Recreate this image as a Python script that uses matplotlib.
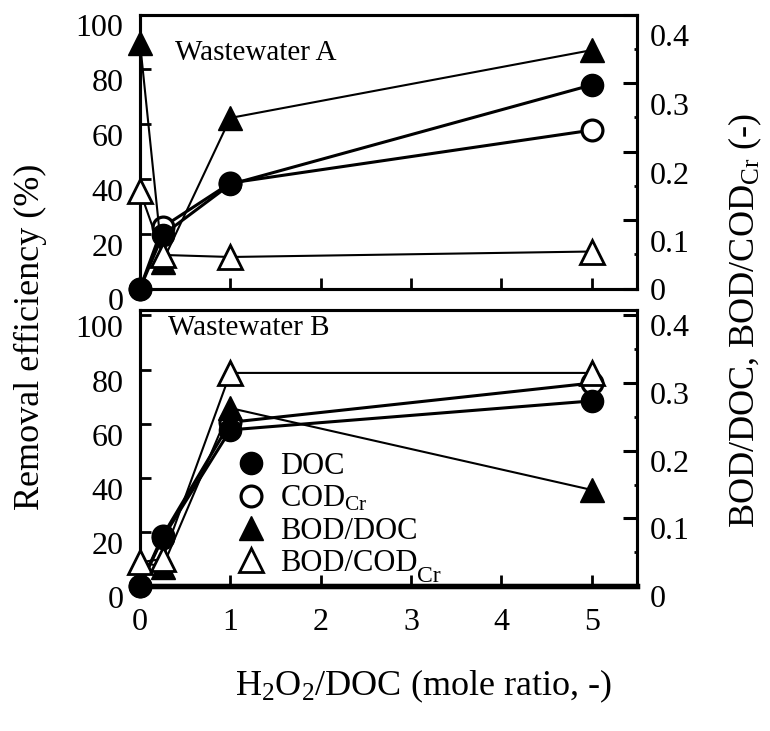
import matplotlib
matplotlib.use('Agg')
import matplotlib.pyplot as plt
from matplotlib.lines import Line2D
from matplotlib.transforms import ScaledTranslation

plt.rcParams['font.family'] = ['Liberation Serif', 'DejaVu Serif']
plt.rcParams['mathtext.fontset'] = 'custom'
plt.rcParams['mathtext.rm'] = 'Liberation Serif'
plt.rcParams['mathtext.it'] = 'Liberation Serif:italic'

# H2O2/DOC mole ratio
x = [0, 0.25, 1, 5]

# Wastewater A
a_doc = [0, 19.5, 38.0, 74.3]
a_cod = [0, 22.4, 38.5, 57.8]
a_bod_doc = [0.359, 0.039, 0.249, 0.348]
a_bod_cod = [0.142, 0.049, 0.046, 0.054]

# Wastewater B
b_doc = [0, 17.7, 57.7, 68.4]
b_cod = [0, 18.5, 60.5, 75.0]
b_bod_doc = [0.036, 0.028, 0.263, 0.142]
b_bod_cod = [0.035, 0.040, 0.315, 0.315]

xticks = [0, 1, 2, 3, 4, 5]
left_ticks = [0, 20, 40, 60, 80, 100]
right_ticks = [0, 0.1, 0.2, 0.3, 0.4]
right_minor = [0.05, 0.15, 0.25, 0.35]
right_labels = ['0', '0.1', '0.2', '0.3', '0.4']

W, H = 770, 731
fig = plt.figure(figsize=(W / 100, H / 100), dpi=100)

def px_axes(left, right, top, bottom):
    return fig.add_axes([left / W, 1 - bottom / H, (right - left) / W, (bottom - top) / H])

axA = px_axes(140, 637, 14.5, 288.5)
axB = px_axes(140, 637, 310, 586)
axA2 = axA.twinx()
axB2 = axB.twinx()

styles = {
    'doc': dict(marker='o', ms=16, mfc='black', mec='black', mew=1, color='black', lw=2.2),
    'cod': dict(marker='o', ms=15, mfc='white', mec='black', mew=2.3, color='black', lw=2.2),
    'bdoc': dict(marker='^', ms=17, mfc='black', mec='black', mew=1, color='black', lw=1.5),
    'bcod': dict(marker='^', ms=17, mfc='white', mec='black', mew=2.0, color='black', lw=1.5),
}

def draw(ax, ax2, doc, cod, bdoc, bcod):
    ax.plot(x, cod, clip_on=False, zorder=3, **styles['cod'])
    ax.plot(x, doc, clip_on=False, zorder=4, **styles['doc'])
    ax2.plot(x, bdoc, clip_on=False, zorder=3, **styles['bdoc'])
    ax2.plot(x, bcod, clip_on=False, zorder=4, **styles['bcod'])

draw(axA, axA2, a_doc, a_cod, a_bod_doc, a_bod_cod)
draw(axB, axB2, b_doc, b_cod, b_bod_doc, b_bod_cod)

def offset(dy):
    return ScaledTranslation(0, -dy / 100, fig.dpi_scale_trans)

for ax, ax2, ytop, show_x in [(axA, axA2, 100, False), (axB, axB2, 102, True)]:
    ax.set_xlim(0, 5.5)
    ax.set_ylim(0, ytop)
    ax2.set_ylim(0, ytop / 250)
    ax.set_xticks(xticks)
    ax.set_yticks(left_ticks)
    ax2.set_yticks(right_ticks)
    ax2.set_yticklabels(right_labels)
    ax2.set_yticks(right_minor, minor=True)
    ax.tick_params(axis='y', direction='in', length=8, width=2, labelsize=23, pad=12)
    ax.tick_params(axis='x', direction='in', length=8, width=2, labelsize=23, pad=16,
                   labelbottom=show_x)
    ax2.tick_params(axis='y', which='major', direction='in', length=10, width=2.2,
                    labelsize=23, pad=9)
    ax2.tick_params(axis='y', which='minor', direction='in', length=2, width=2)
    for a in (ax, ax2):
        for s in a.spines.values():
            s.set_linewidth(2.2)
    for t in ax.yaxis.get_major_ticks():
        t.label1.set_transform(t.label1.get_transform() + offset(11))

axB.spines['bottom'].set_linewidth(3.8)
axB2.spines['bottom'].set_linewidth(3.8)

for t, v in zip(axA2.yaxis.get_major_ticks(), right_ticks):
    dy = 0 if v == 0 else 21
    t.label2.set_transform(t.label2.get_transform() + offset(dy))
for t in axB2.yaxis.get_major_ticks():
    t.label2.set_transform(t.label2.get_transform() + offset(10))

axA.text(0.071, 0.86, 'Wastewater A', transform=axA.transAxes, fontsize=21,
         va='center', ha='left')
axB.text(0.056, 0.935, 'Wastewater B', transform=axB.transAxes, fontsize=21,
         va='center', ha='left')

handles = [Line2D([], [], ls='none', **{k: v for k, v in styles[key].items() if k != 'lw'})
           for key in ['doc', 'cod', 'bdoc', 'bcod']]
labels = ['DOC', 'COD$_{\\mathrm{Cr}}$', 'BOD/DOC', 'BOD/COD']
axB2.legend(handles, labels, loc='upper left', bbox_to_anchor=(239 / W, 1 - 452 / H),
            bbox_transform=fig.transFigure, frameon=False, fontsize=22,
            handlelength=0.8, handletextpad=0.55, labelspacing=0.1,
            borderpad=0, borderaxespad=0)
fig.text(429 / W, 1 - 577 / H, 'Cr', fontsize=17, ha='center', va='center')

fig.text(30 / W, 1 - 337 / H, 'Removal efficiency (%)', rotation=90,
         ha='center', va='center', fontsize=26)
fig.text(745 / W, 1 - 320 / H, 'BOD/DOC, BOD/COD$_{\\mathrm{Cr}}$ (-)', rotation=90,
         ha='center', va='center', fontsize=26)
fig.text(424 / W, 1 - 686 / H, 'H$_2$O$_2$/DOC (mole ratio, -)',
         ha='center', va='center', fontsize=26)

fig.savefig('out.png', dpi=100)
